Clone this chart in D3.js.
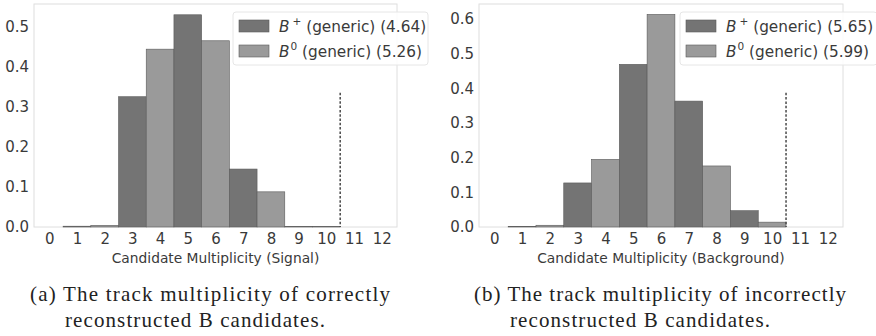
<!DOCTYPE html>
<html>
<head>
<meta charset="utf-8">
<script src="https://cdn.jsdelivr.net/npm/d3@7"></script>
<style>
  body { margin: 0; background: #fff; }
</style>
</head>
<body>
<div id="chart"></div>
<script>
// multiplicity bins 0..12
const bins = d3.range(0, 13);
const xTicks = d3.range(0, 13);

// signal panel
const signalValues = [0, 0.002, 0.004, 0.326, 0.445, 0.531, 0.466, 0.145, 0.088, 0.001, 0.001, 0, 0];
const signalTicks = [0, 0.1, 0.2, 0.3, 0.4, 0.5];
const signalLegend = [["+", "4.64"], ["0", "5.26"]];

// background panel
const bkgValues = [0, 0.002, 0.005, 0.127, 0.195, 0.469, 0.613, 0.363, 0.176, 0.047, 0.014, 0, 0];
const bkgTicks = [0, 0.1, 0.2, 0.3, 0.4, 0.5, 0.6];
const bkgLegend = [["+", "5.65"], ["0", "5.99"]];

const cutValue = 10.5;

const sans = "DejaVu Sans, sans-serif";

const svg = d3.select("#chart").append("svg")
    .attr("width", 876)
    .attr("height", 336);

function drawPanel(opts) {
    const width = opts.right - opts.left,
        height = opts.bottom - opts.top;
    const g = svg.append("g")
        .attr("transform", `translate(${opts.left},${opts.top})`);

    const x = d3.scaleLinear().domain([-0.55, 12.55]).range([0, width]);
    const y = d3.scaleLinear().domain([0, opts.yMax]).range([height, 0]);

    // frame
    g.append("rect")
        .attr("width", width).attr("height", height)
        .attr("fill", "none").attr("stroke", "#dedede").attr("stroke-width", 1);

    // bars, colour alternates dark / light
    g.append("g").selectAll("rect")
        .data(opts.values.map((v, i) => ({ bin: bins[i], value: v })))
        .join("rect")
        .attr("x", d => x(d.bin - 0.5))
        .attr("y", d => y(d.value))
        .attr("width", x(1) - x(0))
        .attr("height", d => height - y(d.value))
        .attr("fill", d => d.bin % 2 === 1 ? "#747474" : "#9a9a9a")
        .attr("stroke", "#5a5a5a")
        .attr("stroke-width", 0.6);

    // dashed cut line
    g.append("line")
        .attr("x1", x(cutValue)).attr("x2", x(cutValue))
        .attr("y1", y(opts.cutTop)).attr("y2", y(0))
        .attr("stroke", "#4a4a4a").attr("stroke-width", 1.5)
        .attr("stroke-dasharray", "2.5,1.8");

    // axes
    const xAxis = g.append("g")
        .attr("transform", `translate(0,${height})`)
        .call(d3.axisBottom(x).tickValues(xTicks).tickSize(0).tickPadding(6));
    const yAxis = g.append("g")
        .call(d3.axisLeft(y).tickValues(opts.ticks).tickSize(0).tickPadding(5)
            .tickFormat(d3.format(".1f")));
    [xAxis, yAxis].forEach(a => {
        a.select(".domain").remove();
        a.selectAll("text").attr("font-size", "15px").attr("fill", "#3a3a3a")
            .style("font-family", sans);
    });

    g.append("text")
        .attr("x", width / 2).attr("y", height + 36)
        .attr("text-anchor", "middle")
        .style("font-family", sans)
        .attr("font-size", "13.8px").attr("fill", "#3a3a3a")
        .text(opts.title);

    // legend
    const lg = g.append("g").attr("transform", `translate(${opts.legendX},8)`);
    lg.append("rect")
        .attr("width", opts.legendW).attr("height", 53)
        .attr("rx", 3)
        .attr("fill", "#fff").attr("fill-opacity", 0.85)
        .attr("stroke", "#e6e6e6");
    opts.legend.forEach((item, i) => {
        const yy = 14 + i * 25;
        lg.append("rect")
            .attr("x", 6).attr("y", yy - 6).attr("width", 30).attr("height", 12)
            .attr("fill", i === 0 ? "#747474" : "#9a9a9a")
            .attr("stroke", "#5a5a5a").attr("stroke-width", 0.6);
        const t = lg.append("text")
            .attr("x", 46).attr("y", yy + 6)
            .style("font-family", sans)
            .attr("font-size", "15.3px").attr("fill", "#3a3a3a");
        t.append("tspan").attr("font-style", "italic").text("B");
        t.append("tspan").attr("font-size", "10.5px").attr("dy", -7).attr("dx", item[0] === "+" ? 3 : 1).text(item[0]);
        t.append("tspan").attr("dy", 7).text(` (generic) (${item[1]})`);
    });
}

drawPanel({
    left: 34, right: 397, top: 4, bottom: 227,
    yMax: 0.558, values: signalValues, ticks: signalTicks,
    cutTop: 0.336, legend: signalLegend, legendX: 199, legendW: 195,
    title: "Candidate Multiplicity (Signal)"
});
drawPanel({
    left: 479, right: 843, top: 4, bottom: 227,
    yMax: 0.643, values: bkgValues, ticks: bkgTicks,
    cutTop: 0.387, legend: bkgLegend, legendX: 201, legendW: 197,
    title: "Candidate Multiplicity (Background)"
});

// captions (hanging indent for the second line)
const captions = [
    { x: 30, indent: 35, widths: [360, 260],
      lines: ["(a) The track multiplicity of correctly", "reconstructed B candidates."] },
    { x: 474, indent: 36, widths: [372, 260],
      lines: ["(b) The track multiplicity of incorrectly", "reconstructed B candidates."] }
];
captions.forEach(c => {
    c.lines.forEach((line, i) => {
        svg.append("text")
            .attr("x", c.x + (i ? c.indent : 0)).attr("y", 301 + i * 26)
            .style("font-family", "Liberation Serif, DejaVu Serif, serif")
            .attr("font-size", "21px").attr("fill", "#222")
            .attr("textLength", c.widths[i])
            .attr("lengthAdjust", "spacing")
            .text(line);
    });
});
</script>
</body>
</html>
